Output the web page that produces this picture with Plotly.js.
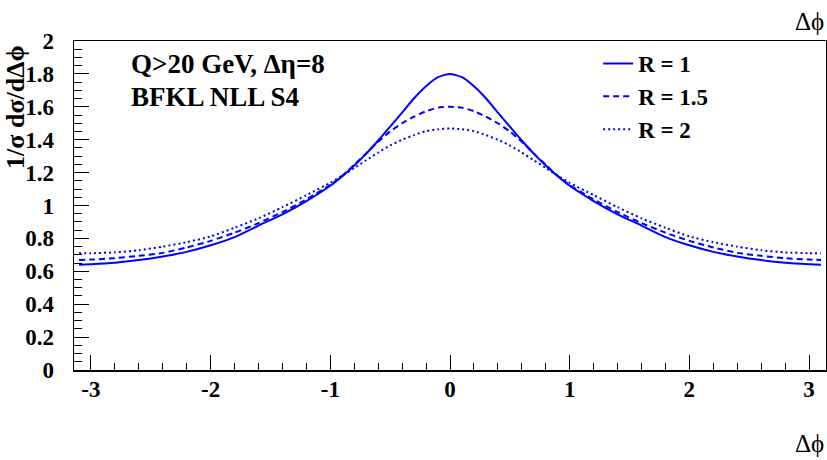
<!DOCTYPE html>
<html>
<head>
<meta charset="utf-8">
<script src="https://cdn.plot.ly/plotly-3.0.1.min.js"></script>
<style>html,body{margin:0;padding:0;background:#fff;}#chart{width:827px;height:460px;}</style>
</head>
<body>
<div id="chart"></div>
<script>
// Δφ sample points
const dphi = [-3.1, -3.0, -2.8, -2.6, -2.4, -2.2, -2.0, -1.8, -1.6, -1.4, -1.2, -1.0, -0.9, -0.8, -0.7, -0.6, -0.5, -0.4, -0.3, -0.2, -0.1, 0.0,
               0.1, 0.2, 0.3, 0.4, 0.5, 0.6, 0.7, 0.8, 0.9, 1.0, 1.2, 1.4, 1.6, 1.8, 2.0, 2.2, 2.4, 2.6, 2.8, 3.0, 3.1];
// R = 1 (solid)
const r1 = [0.640, 0.643, 0.652, 0.668, 0.690, 0.718, 0.758, 0.808, 0.878, 0.946, 1.027, 1.120, 1.178, 1.243, 1.315, 1.395, 1.480, 1.565, 1.652, 1.725, 1.780, 1.800,
            1.780, 1.725, 1.652, 1.565, 1.480, 1.395, 1.315, 1.243, 1.178, 1.120, 1.027, 0.946, 0.878, 0.808, 0.758, 0.718, 0.690, 0.668, 0.652, 0.643, 0.640];
// R = 1.5 (dashed)
const r15 = [0.669, 0.671, 0.680, 0.694, 0.712, 0.745, 0.785, 0.835, 0.893, 0.960, 1.037, 1.125, 1.180, 1.247, 1.317, 1.387, 1.450, 1.500, 1.540, 1.573, 1.595, 1.600,
             1.595, 1.573, 1.540, 1.500, 1.450, 1.387, 1.317, 1.247, 1.180, 1.125, 1.037, 0.960, 0.893, 0.835, 0.785, 0.745, 0.712, 0.694, 0.680, 0.671, 0.669];
// R = 2 (dotted)
const r2 = [0.709, 0.710, 0.715, 0.728, 0.750, 0.777, 0.812, 0.865, 0.922, 0.990, 1.063, 1.138, 1.182, 1.228, 1.275, 1.322, 1.365, 1.400, 1.428, 1.452, 1.463, 1.468,
            1.463, 1.452, 1.428, 1.400, 1.365, 1.322, 1.275, 1.228, 1.182, 1.138, 1.063, 0.990, 0.922, 0.865, 0.812, 0.777, 0.750, 0.728, 0.715, 0.710, 0.709];

const seriesNames = ["R = 1", "R = 1.5", "R = 2"];
const xTickVals = [-3, -2, -1, 0, 1, 2, 3];
const xTickText = ["-3", "-2", "-1", "0", "1", "2", "3"];
const yTickVals = [0, 0.2, 0.4, 0.6, 0.8, 1, 1.2, 1.4, 1.6, 1.8, 2];
const yTickText = ["0", "0.2", "0.4", "0.6", "0.8", "1", "1.2", "1.4", "1.6", "1.8", "2"];

const FONT = "Liberation Serif, Times New Roman, serif";
const BLUE = "#0000ff";

const traces = [
  {x: dphi, y: r1, name: seriesNames[0], mode: "lines", line: {color: BLUE, width: 2, shape: "spline", smoothing: 0.6}},
  {x: dphi, y: r15, name: seriesNames[1], mode: "lines", line: {color: BLUE, width: 2, dash: "6px,4px", shape: "spline", smoothing: 0.6}},
  {x: dphi, y: r2, name: seriesNames[2], mode: "lines", line: {color: BLUE, width: 2, dash: "2px,3px", shape: "spline", smoothing: 0.6}}
];

const layout = {
  width: 827, height: 460,
  margin: {l: 74, r: 1, t: 41, b: 90},
  paper_bgcolor: "#ffffff", plot_bgcolor: "#ffffff",
  showlegend: true,
  legend: {
    x: 0.697, y: 0.997, xanchor: "left", yanchor: "top",
    bgcolor: "rgba(0,0,0,0)", borderwidth: 0,
    font: {family: FONT, size: 23, color: "#000", weight: "bold"},
    itemwidth: 30, tracegroupgap: 0
  },
  xaxis: {
    range: [-Math.PI, Math.PI],
    showgrid: false, zeroline: false,
    showline: true, linecolor: "#000", linewidth: 1.5, mirror: true,
    ticks: "inside", ticklen: 15, tickwidth: 1, tickcolor: "#000",
    tickvals: xTickVals, ticktext: xTickText,
    tickfont: {family: FONT, size: 23, color: "#000", weight: "bold"},
    ticklabelstandoff: -2,
    minor: {dtick: 0.2, ticks: "inside", ticklen: 7, tickwidth: 1, tickcolor: "#000", showgrid: false}
  },
  yaxis: {
    range: [0, 2],
    showgrid: false, zeroline: false,
    showline: true, linecolor: "#000", linewidth: 1.5, mirror: true,
    ticks: "inside", ticklen: 15, tickwidth: 1, tickcolor: "#000",
    tickvals: yTickVals, ticktext: yTickText,
    tickfont: {family: FONT, size: 23, color: "#000", weight: "bold"},
    ticklabelstandoff: 14,
    minor: {dtick: 0.05, ticks: "inside", ticklen: 8, tickwidth: 1, tickcolor: "#000", showgrid: false}
  },
  annotations: [
    {text: "Q>20 GeV, Δη=8", xref: "paper", yref: "paper", x: 0.0731, y: 0.93, xanchor: "left", yanchor: "middle",
     showarrow: false, font: {family: FONT, size: 27, color: "#000", weight: "bold"}},
    {text: "BFKL NLL S4", xref: "paper", yref: "paper", x: 0.0731, y: 0.83, xanchor: "left", yanchor: "middle",
     showarrow: false, font: {family: FONT, size: 27, color: "#000", weight: "bold"}},
    {text: "Δϕ", xref: "paper", yref: "paper", x: 1.0, y: 1.058, xanchor: "right", yanchor: "middle",
     showarrow: false, font: {family: FONT, size: 25, color: "#000"}},
    {text: "Δϕ", xref: "paper", yref: "paper", x: 1.0, y: -0.222, xanchor: "right", yanchor: "middle",
     showarrow: false, font: {family: FONT, size: 25, color: "#000"}},
    {text: "1/σ dσ/dΔϕ", xref: "paper", yref: "paper", x: -0.077, y: 0.8, xanchor: "center", yanchor: "middle",
     textangle: -90, showarrow: false, borderpad: 0, font: {family: FONT, size: 26, color: "#000", weight: "bold"}}
  ]
};

Plotly.newPlot("chart", traces, layout, {displayModeBar: false, staticPlot: true});
</script>
</body>
</html>
